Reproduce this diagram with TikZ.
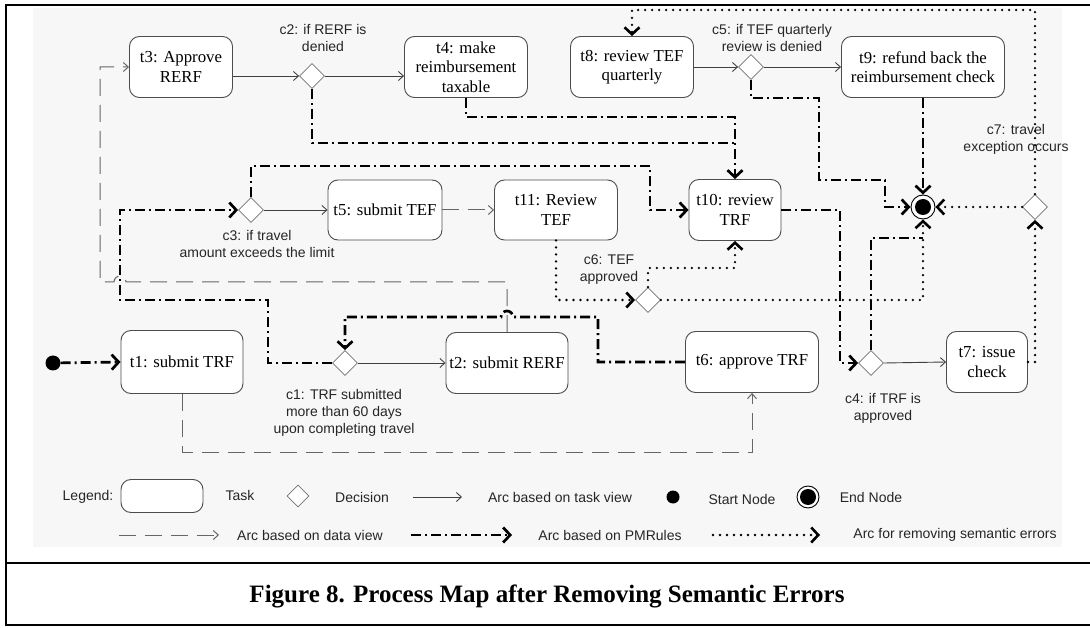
\documentclass[tikz,border=0pt]{standalone}
\usepackage{fontspec}
\setmainfont{Liberation Serif}
\setsansfont{Liberation Sans}
\usetikzlibrary{shapes.geometric, arrows.meta, positioning}

\tikzset{
	task/.style={draw=black!70, line width=0.9pt, rounded corners=10pt, fill=white, align=center, inner sep=1pt, font=\fontsize{16.8}{19.5}\selectfont},
	decision/.style={diamond, draw=black!55, line width=0.8pt, fill=white, minimum size=25pt, inner sep=0pt},
	cond/.style={align=center, inner sep=0pt, font=\sffamily\fontsize{14}{17}\selectfont, text=black!85},
	startnode/.style={circle, fill=black, minimum size=15pt, inner sep=0pt},
	endnode/.style={circle, draw=black, line width=0.9pt, fill=white, minimum size=24pt, inner sep=0pt, path picture={\fill[black] (path picture bounding box.center) circle (8pt);}},
	taskarc/.style={draw=black!75, line width=0.9pt, -{Straight Barb[length=5pt, width=9pt]}},
	dataarc/.style={draw=black!60, line width=1pt, dash pattern=on 17pt off 9pt, -{Straight Barb[length=5pt, width=9pt]}},
	pmrline/.style={line width=2.7pt, dash pattern=on 10pt off 4pt on 2pt off 4pt},
	pmrarc/.style={pmrline, -{Straight Barb[length=7pt, width=15pt]}},
	semline/.style={line width=2.6pt, line cap=round, dash pattern=on 0pt off 7pt},
	semarc/.style={semline, -{Straight Barb[length=7pt, width=15pt]}},
	legtext/.style={inner sep=0pt, font=\sffamily\fontsize{14}{17}\selectfont, text=black!85},
}

\begin{document}
\begin{tikzpicture}[x=1pt, y=-1pt]
	\useasboundingbox (0,0) rectangle (1090,628);
	\fill[black!3] (33,8) rectangle (1062,547);
	\draw[line width=2.5pt] (6,5) rectangle (1096,625);
	\draw[line width=2.5pt] (6,563) -- (1096,563);

	% tasks and decisions
	\node (t3) [task, minimum width=103pt, minimum height=61pt] at (181,67) {t3: Approve\\RERF};
	\node (c2) [decision] at (312,76) {};
	\node (t4) [task, minimum width=123pt, minimum height=61pt] at (466,67) {t4: make\\reimbursement\\taxable};
	\node (t8) [task, minimum width=123pt, minimum height=61pt] at (632,67) {t8: review TEF\\quarterly};
	\node (c5) [decision] at (751,67) {};
	\node (t9) [task, minimum width=163pt, minimum height=61pt] at (923,67) {t9: refund back the\\reimbursement check};

	\node (c3) [decision] at (251,210) {};
	\node (t5) [task, minimum width=114pt, minimum height=60pt] at (385,210) {t5: submit TEF};
	\node (t11) [task, minimum width=123pt, minimum height=60pt] at (556,210) {t11: Review\\TEF};
	\node (t10) [task, minimum width=92pt, minimum height=61pt] at (735,210) {t10: review\\TRF};
	\node (end) [endnode] at (923,207) {};
	\node (c7) [decision] at (1035,207) {};

	\node (c6) [decision] at (648,300) {};

	\node (start) [startnode] at (53,363) {};
	\node (t1) [task, minimum width=122pt, minimum height=63pt] at (182,362) {t1: submit TRF};
	\node (c1) [decision] at (345,363) {};
	\node (t2) [task, minimum width=122pt, minimum height=61pt] at (507,363) {t2: submit RERF};
	\node (t6) [task, minimum width=133pt, minimum height=61pt] at (752,362) {t6: approve TRF};
	\node (c4) [decision] at (871,363) {};
	\node (t7) [task, minimum width=81pt, minimum height=61pt] at (987,362) {t7: issue\\check};

	% conditions
	\node (c2lbl) [cond] at (323,38) {c2: if RERF is\\denied};
	\node (c5lbl) [cond] at (772,38) {c5: if TEF quarterly\\review is denied};
	\node (c3lbl) [cond] at (257,244) {c3: if travel\\amount exceeds the limit};
	\node (c6lbl) [cond] at (609,270) {c6: TEF\\approved};
	\node (c1lbl) [cond] at (344,413) {c1: TRF submitted\\more than 60 days\\upon completing travel};
	\node (c4lbl) [cond] at (883,408) {c4: if TRF is\\approved};
	\node (c7lbl) [cond] at (1016,139) {c7: travel\\exception occurs};

	\coordinate (jtop) at (t10.north |- 0,143);
	\coordinate (jend) at (end.south |- 0,238);

	% task view
	\draw[taskarc] (t3.east |- c2) -- (c2.west);
	\draw[taskarc] (c2.east) -- (t4.west |- c2);
	\draw[taskarc] (t8.east) -- (c5.west);
	\draw[taskarc] (c5.east) -- (t9.west);
	\draw[taskarc] (c3.east) -- (t5.west);
	\draw[taskarc] (c1.east) -- (t2.west);
	\draw[taskarc] (c4.east) -- (t7.west);

	% data view
	\draw[dataarc] (t5.east) -- (t11.west);
	\draw[dataarc] (t1.south) -- (t1.south |- 0,452) -| (t6.south);
	\draw[dataarc] (t2.north) |- (126,282) arc[start angle=0, end angle=-180, radius=6] -- (100,282) |- (t3.west);

	% PMRules
	\draw[pmrarc] (start) -- (t1.west);
	\draw[pmrline] (c2.south) |- (jtop);
	\draw[pmrarc] (t4.south) |- (t10.north |- 0,117) -- (t10.north);
	\draw[pmrarc] (c3.north) |- (650,166) |- (t10.west);
	\draw[pmrarc] (c1.west) -| (268,300) -| (c3.west -| 120,0) -- (c3.west);
	\draw[pmrarc] (t6.west) -| (598,317) -- (513,317) arc[start angle=0, end angle=-180, radius=6] -- (c1.north |- 0,317) -- (c1.north);
	\draw[pmrarc] (t10.east) -| (c4.west -| 840,0) -- (c4.west);
	\draw[pmrline] (c4.north) |- (jend);
	\draw[pmrarc] (t9.south) -- (end.north);
	\draw[pmrarc] (c5.south) |- (819,98) |- (885,180) |- (end.west);

	% semantic errors
	\draw[semarc] (t11.south) |- (c6.west);
	\draw[semarc] (c6.north) |- (t10.south |- 0,268) -- (t10.south);
	\draw[semarc] (c6.east) -| (end.south);
	\draw[semarc] (c7.west) -- (end.east);
	\draw[semarc] (t7.east) -| (c7.south);
	\draw[semarc] (c7.north) |- (t8.north |- 0,10) -- (t8.north);

	% legend
	\node (legend) [legtext] at (88,497) {Legend:};
	\node (legtask) [task, minimum width=82pt, minimum height=33pt] at (162,496) {};
	\node (legtasktxt) [legtext] at (240,495) {Task};
	\node (legdec) [decision, minimum size=22pt] at (298,496) {};
	\node (legdectxt) [legtext] at (362,497) {Decision};
	\coordinate (tva) at (413,497);
	\coordinate (tvb) at (462,497);
	\draw[taskarc] (tva) -- (tvb);
	\node (legtasktv) [legtext] at (560,497) {Arc based on task view};
	\node (legstart) [startnode, minimum size=13pt] at (673,497) {};
	\node (legstarttxt) [legtext] at (742,499) {Start Node};
	\node (legend) [endnode, minimum size=22pt] at (808,497) {};
	\node (legendtxt) [legtext] at (871,497) {End Node};

	\coordinate (dva) at (119,535);
	\coordinate (dvb) at (219,535);
	\draw[dataarc] (dva) -- (dvb);
	\node (legdata) [legtext] at (310,535) {Arc based on data view};
	\coordinate (pma) at (411,535);
	\coordinate (pmb) at (512,535);
	\draw[pmrarc] (pma) -- (pmb);
	\node (legpmr) [legtext] at (610,535) {Arc based on PMRules};
	\coordinate (sea) at (713,535);
	\coordinate (seb) at (820,535);
	\draw[semarc] (sea) -- (seb);
	\node (legsem) [legtext] at (955,535) {Arc for removing semantic errors};

	\node (caption) [font=\bfseries\fontsize{25}{30}\selectfont] at (547,596) {Figure 8. Process Map after Removing Semantic Errors};
\end{tikzpicture}
\end{document}
